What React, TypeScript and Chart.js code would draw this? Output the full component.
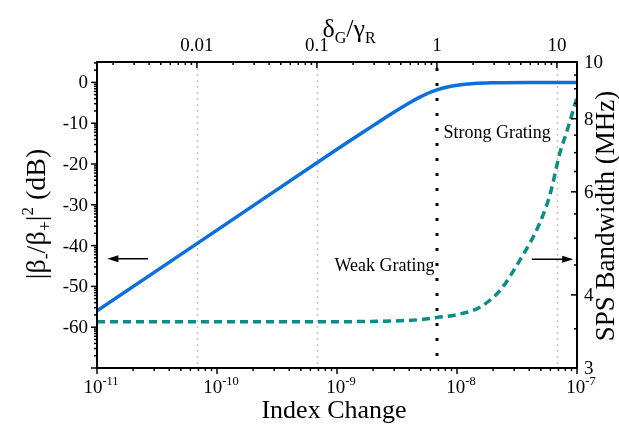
import React, { useEffect, useRef } from "react";
import { Chart, registerables } from "chart.js";

Chart.register(...registerables);

// ---- data ----
// index change at which δG/γR = 1 (black dotted line)
const unityIndexChange = 6.8e-9;

const reflIndex = [1e-11, 1e-10, 1e-9, 2e-9, 2.8e-9, 3.8e-9, 4.9e-9, 5.8e-9, 6.8e-9, 8e-9, 1e-8, 1.4e-8, 2e-8, 4e-8, 1e-7];
const reflectionDb = [-56, -36.2, -16.4, -10.6, -7.8, -5.4, -3.6, -2.6, -1.85, -1.25, -0.7, -0.25, -0.08, 0, 0];

const bwIndex = [1e-11, 1e-9, 3e-9, 5e-9, 6.8e-9, 1e-8, 1.55e-8, 2.3e-8, 3.35e-8, 4.9e-8, 6e-8, 7.2e-8, 8.3e-8, 1e-7];
const bandwidthMHz = [3.6, 3.6, 3.61, 3.63, 3.66, 3.7, 3.81, 4.08, 4.59, 5.31, 5.97, 6.99, 7.65, 8.7];

const bottomDecades = [-11, -10, -9, -8, -7];
const topTickValues = [0.01, 0.1, 1, 10];
const topTickLabels = ["0.01", "0.1", "1", "10"];
const leftTickValues = [0, -10, -20, -30, -40, -50, -60];
const rightTickValues = [3, 4, 6, 8, 10];

const FONT = '"Liberation Serif", "Times New Roman", serif';
const BLUE = "#0b6fde";
const TEAL = "#0a8c88";

type Seg = { t: string; size: number; dy?: number };

function segWidth(ctx: CanvasRenderingContext2D, segs: Seg[]) {
  let w = 0;
  for (const s of segs) {
    ctx.font = `${s.size}px ${FONT}`;
    w += ctx.measureText(s.t).width;
  }
  return w;
}

function drawSegs(ctx: CanvasRenderingContext2D, segs: Seg[], x: number, y: number, align: "left" | "center" | "right") {
  const w = segWidth(ctx, segs);
  let cx = align === "left" ? x : align === "center" ? x - w / 2 : x - w;
  ctx.textAlign = "left";
  ctx.textBaseline = "alphabetic";
  for (const s of segs) {
    ctx.font = `${s.size}px ${FONT}`;
    ctx.fillText(s.t, cx, y + (s.dy || 0));
    cx += ctx.measureText(s.t).width;
  }
}

function arrow(ctx: CanvasRenderingContext2D, x1: number, y1: number, x2: number, y2: number) {
  ctx.save();
  ctx.strokeStyle = "#000";
  ctx.fillStyle = "#000";
  ctx.lineWidth = 1.5;
  ctx.setLineDash([]);
  const dir = Math.sign(x2 - x1);
  ctx.beginPath();
  ctx.moveTo(x1, y1);
  ctx.lineTo(x2 - dir * 6, y2);
  ctx.stroke();
  ctx.beginPath();
  ctx.moveTo(x2, y2);
  ctx.lineTo(x2 - dir * 11, y2 - 3.5);
  ctx.lineTo(x2 - dir * 11, y2 + 3.5);
  ctx.closePath();
  ctx.fill();
  ctx.restore();
}

const axesPlugin = {
  id: "customAxes",
  beforeDatasetsDraw(chart: any) {
    const { ctx, chartArea: a, scales } = chart;
    const x2 = scales.x2;
    ctx.save();
    // light gray dotted grid lines at top-axis decades
    ctx.strokeStyle = "#c4c4c4";
    ctx.lineWidth = 1.5;
    ctx.setLineDash([2, 4]);
    for (const v of topTickValues) {
      if (v === 1) continue;
      const px = Math.round(x2.getPixelForValue(v)) + 0.5;
      ctx.beginPath();
      ctx.moveTo(px, a.top);
      ctx.lineTo(px, a.bottom);
      ctx.stroke();
    }
    // black dotted line at δG/γR = 1
    ctx.strokeStyle = "#000";
    ctx.lineWidth = 3;
    ctx.setLineDash([3, 12]);
    const p1 = Math.round(x2.getPixelForValue(1));
    ctx.beginPath();
    ctx.moveTo(p1, a.top + 6);
    ctx.lineTo(p1, a.bottom);
    ctx.stroke();
    ctx.restore();
  },
  afterDatasetsDraw(chart: any) {
    const { ctx, chartArea: a, scales } = chart;
    const { x, x2, y, y2 } = scales;
    ctx.save();
    ctx.fillStyle = "#000";
    ctx.strokeStyle = "#000";
    ctx.setLineDash([]);

    // frame
    ctx.lineWidth = 2;
    ctx.strokeRect(a.left, a.top, a.right - a.left, a.bottom - a.top);

    const tick = (x1: number, y1: number, x2p: number, y2p: number) => {
      ctx.beginPath();
      ctx.moveTo(x1, y1);
      ctx.lineTo(x2p, y2p);
      ctx.stroke();
    };
    ctx.lineWidth = 1.5;

    // bottom ticks (outward)
    for (const d of bottomDecades) {
      const px = x.getPixelForValue(Math.pow(10, d));
      tick(px, a.bottom, px, a.bottom + 6);
      if (d < -7) {
        for (let k = 2; k <= 9; k++) {
          const pk = x.getPixelForValue(k * Math.pow(10, d));
          tick(pk, a.bottom, pk, a.bottom + 3);
        }
      }
      drawSegs(ctx, [{ t: "10", size: 19 }, { t: String(d), size: 12.5, dy: -8 }], px + 4, 393, "center");
    }

    // top ticks (inward)
    for (let d = -3; d <= 1; d++) {
      for (let k = 1; k <= 9; k++) {
        const v = k * Math.pow(10, d);
        if (v < x2.min || v > x2.max) continue;
        const px = x2.getPixelForValue(v);
        tick(px, a.top, px, a.top + (k === 1 ? 6 : 3));
      }
    }
    topTickValues.forEach((v, i) => {
      drawSegs(ctx, [{ t: topTickLabels[i], size: 19 }], x2.getPixelForValue(v), 51, "center");
    });

    // left ticks (outward), log-like minor ticks
    for (let m = -70; m <= 10; m += 10) {
      if (m >= y.min && m <= y.max) {
        const py = y.getPixelForValue(m);
        tick(a.left, py, a.left - 6, py);
      }
      for (let k = 2; k <= 9; k++) {
        const v = m + 10 * Math.log10(k / 10);
        if (v < y.min || v > y.max) continue;
        const py = y.getPixelForValue(v);
        tick(a.left, py, a.left - 3, py);
      }
    }
    for (const v of leftTickValues) {
      drawSegs(ctx, [{ t: String(v), size: 19 }], a.left - 9, y.getPixelForValue(v) + 6, "right");
    }

    // right ticks (inward)
    for (let v = 3; v <= 10.001; v += 0.5) {
      const py = y2.getPixelForValue(v);
      const major = rightTickValues.includes(v);
      tick(a.right, py, a.right - (major ? 6 : 3), py);
    }
    for (const v of rightTickValues) {
      drawSegs(ctx, [{ t: String(v), size: 19 }], a.right + 7, y2.getPixelForValue(v) + 6, "left");
    }

    // axis titles
    drawSegs(ctx, [{ t: "Index Change", size: 26 }], (a.left + a.right) / 2 - 3, 418, "center");
    drawSegs(
      ctx,
      [
        { t: "δ", size: 26 },
        { t: "G", size: 16, dy: 6 },
        { t: "/γ", size: 26 },
        { t: "R", size: 16, dy: 6 },
      ],
      (a.left + a.right) / 2 + 12,
      37,
      "center"
    );
    ctx.save();
    ctx.translate(45, (a.top + a.bottom) / 2 - 1);
    ctx.rotate(-Math.PI / 2);
    drawSegs(
      ctx,
      [
        { t: "|β", size: 28 },
        { t: "-", size: 18, dy: 6 },
        { t: "/β", size: 28 },
        { t: "+", size: 18, dy: 6 },
        { t: "|", size: 28 },
        { t: "2", size: 17, dy: -12 },
        { t: " (dB)", size: 28 },
      ],
      0,
      0,
      "center"
    );
    ctx.restore();
    ctx.save();
    ctx.translate(614, (a.top + a.bottom) / 2 + 1);
    ctx.rotate(-Math.PI / 2);
    drawSegs(ctx, [{ t: "SPS Bandwidth (MHz)", size: 27 }], 0, 0, "center");
    ctx.restore();

    // annotations
    drawSegs(ctx, [{ t: "Strong Grating", size: 18 }], x.getPixelForValue(7.7e-9), y.getPixelForValue(-12.2) + 6, "left");
    drawSegs(ctx, [{ t: "Weak Grating", size: 18 }], x.getPixelForValue(6.5e-9), y.getPixelForValue(-44.8) + 6, "right");
    const ay = y.getPixelForValue(-43.2);
    arrow(ctx, x.getPixelForValue(2.66e-11), ay, x.getPixelForValue(1.22e-11), ay);
    const by = y2.getPixelForValue(4.6);
    arrow(ctx, x.getPixelForValue(4.2e-8), by, x.getPixelForValue(9.3e-8), by);

    ctx.restore();
  },
};

export default function App() {
  const ref = useRef<HTMLCanvasElement>(null);
  useEffect(() => {
    document.body.style.margin = "0";
    if (!ref.current) return;
    const chart = new Chart(ref.current, {
      type: "line",
      data: {
        datasets: [
          {
            label: "|β-/β+|^2",
            data: reflIndex.map((v, i) => ({ x: v, y: reflectionDb[i] })),
            borderColor: BLUE,
            borderWidth: 3.5,
            pointRadius: 0,
            cubicInterpolationMode: "monotone",
            xAxisID: "x",
            yAxisID: "y",
          },
          {
            label: "SPS Bandwidth",
            data: bwIndex.map((v, i) => ({ x: v, y: bandwidthMHz[i] })),
            borderColor: TEAL,
            borderWidth: 3.5,
            borderDash: [8, 5],
            pointRadius: 0,
            cubicInterpolationMode: "monotone",
            xAxisID: "x",
            yAxisID: "y2",
          },
        ],
      },
      options: {
        responsive: false,
        animation: false,
        devicePixelRatio: 1,
        layout: { padding: { left: 97, right: 42, top: 62, bottom: 57 } },
        plugins: { legend: { display: false }, tooltip: { enabled: false } },
        scales: {
          x: { type: "logarithmic", position: "bottom", min: 1e-11, max: 1e-7, display: false },
          x2: {
            type: "logarithmic",
            position: "top",
            min: 1e-11 / unityIndexChange,
            max: 1e-7 / unityIndexChange,
            display: false,
          },
          y: { type: "linear", position: "left", min: -70, max: 5, display: false },
          y2: { type: "logarithmic", position: "right", min: 3, max: 10, display: false },
        },
      },
      plugins: [axesPlugin],
    } as any);
    return () => chart.destroy();
  }, []);
  return <canvas ref={ref} width={619} height={425} style={{ display: "block" }} />;
}
